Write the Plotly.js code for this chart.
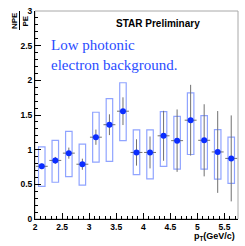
<!DOCTYPE html>
<html>
<head>
<meta charset="utf-8">
<script src="https://cdn.plot.ly/plotly-3.0.1.min.js"></script>
<style>html,body{margin:0;padding:0;background:#fff;}#chart{width:245px;height:246px;}</style>
</head>
<body>
<div id="chart"></div>
<script>
var pt = [2.125, 2.375, 2.625, 2.875, 3.125, 3.375, 3.625, 3.875, 4.125, 4.375, 4.625, 4.875, 5.125, 5.375, 5.625];
var ratio = [0.76, 0.845, 0.95, 0.79, 1.18, 1.36, 1.555, 0.96, 0.96, 1.2, 1.13, 1.425, 1.135, 0.967, 0.874];
var statErr = [0.04, 0.05, 0.08, 0.08, 0.11, 0.15, 0.2, 0.19, 0.23, 0.36, 0.45, 0.51, 0.52, 0.59, 0.62];
var ptErr = [0.11, 0.11, 0.11, 0.11, 0.11, 0.11, 0.11, 0.11, 0.11, 0.11, 0.11, 0.11, 0.11, 0.11, 0.11];
var sysLow = [0.47, 0.53, 0.61, 0.49, 0.82, 0.83, 1.13, 0.64, 0.58, 0.76, 0.72, 0.93, 0.72, 0.575, 0.515];
var sysHigh = [1.04, 1.135, 1.265, 1.08, 1.54, 1.735, 1.965, 1.285, 1.285, 1.55, 1.48, 1.82, 1.49, 1.29, 1.18];
var xTicks = [2, 2.5, 3, 3.5, 4, 4.5, 5, 5.5];
var yTicks = [0, 0.5, 1, 1.5, 2, 2.5, 3];

var sysHeight = sysHigh.map(function(h, i){ return h - sysLow[i]; });
var tickFont = {family: 'Liberation Sans, Arial, sans-serif', size: 8.5, color: '#000', weight: 'bold'};

// pixel helpers for paper placement of text (plot area: 35..238 x, 11..219 y)
function px(p){ return (p - 35) / 203; }
function py(p){ return (219 - p) / 208; }

var traces = [
  {
    type: 'bar', x: pt, y: sysHeight, base: sysLow, width: 0.12,
    marker: {color: 'rgba(0,0,0,0)', line: {color: '#90a4ff', width: 1.2}},
    hoverinfo: 'skip', showlegend: false
  },
  {
    type: 'scatter', mode: 'markers', x: pt, y: ratio,
    marker: {color: '#0a2cff', size: 6, symbol: 'circle'},
    error_y: {type: 'data', array: statErr, visible: true, color: '#707070', thickness: 1, width: 0},
    error_x: {type: 'data', array: ptErr, visible: true, color: '#707070', thickness: 1, width: 0},
    showlegend: false
  }
];

var boldFont = function(s){ return {family: 'Liberation Sans, Arial, sans-serif', size: s, color: '#000', weight: 'bold'}; };

var layout = {
  width: 245, height: 246,
  margin: {l: 35, r: 7, t: 11, b: 27},
  paper_bgcolor: '#fff', plot_bgcolor: '#fff',
  showlegend: false,
  xaxis: {
    range: [2, 5.75], tickvals: xTicks, ticks: 'inside', ticklen: 6, tickcolor: '#000',
    showgrid: false, zeroline: false, showline: true, linecolor: '#000', linewidth: 1,
    tickfont: tickFont, ticklabelstandoff: 0,
    minor: {ticks: 'inside', dtick: 0.1, ticklen: 3, tickcolor: '#000', showgrid: false}
  },
  yaxis: {
    range: [0, 3], tickvals: yTicks, ticks: 'inside', ticklen: 6, tickcolor: '#000',
    showgrid: false, zeroline: false, showline: true, linecolor: '#000', linewidth: 1,
    tickfont: tickFont, ticklabelstandoff: 0,
    minor: {ticks: 'inside', dtick: 0.1, ticklen: 3, tickcolor: '#000', showgrid: false}
  },
  shapes: [
    {type: 'rect', xref: 'paper', yref: 'paper', x0: 0, x1: 1, y0: 0, y1: 1,
     line: {color: '#a8a8a8', width: 1}, layer: 'below'},
    {type: 'line', xref: 'paper', yref: 'paper', x0: px(19.5), x1: px(19.5), y0: py(30), y1: py(11),
     line: {color: '#000', width: 1}}
  ],
  annotations: [
    {xref: 'paper', yref: 'paper', x: px(158), y: py(23), xanchor: 'center', yanchor: 'middle',
     text: 'STAR Preliminary', showarrow: false, font: boldFont(10)},
    {xref: 'paper', yref: 'paper', x: px(49), y: py(35), xanchor: 'left', yanchor: 'top', align: 'left', showarrow: false,
     text: 'Low photonic<br>electron background.',
     font: {family: 'Liberation Serif, Times New Roman, serif', size: 15, color: '#2a4cff'}},
    {xref: 'paper', yref: 'paper', x: px(14.5), y: py(20.5), xanchor: 'center', yanchor: 'middle', textangle: -90,
     showarrow: false, text: 'NPE', font: boldFont(8)},
    {xref: 'paper', yref: 'paper', x: px(24.5), y: py(21), xanchor: 'center', yanchor: 'middle', textangle: -90,
     showarrow: false, text: 'PE', font: boldFont(8)},
    {xref: 'paper', yref: 'paper', x: px(237), y: py(237), xanchor: 'right', yanchor: 'middle', showarrow: false,
     text: 'p<sub>T</sub>(GeV/c)', font: boldFont(9)}
  ]
};

Plotly.newPlot('chart', traces, layout, {displayModeBar: false, staticPlot: true});
</script>
</body>
</html>
